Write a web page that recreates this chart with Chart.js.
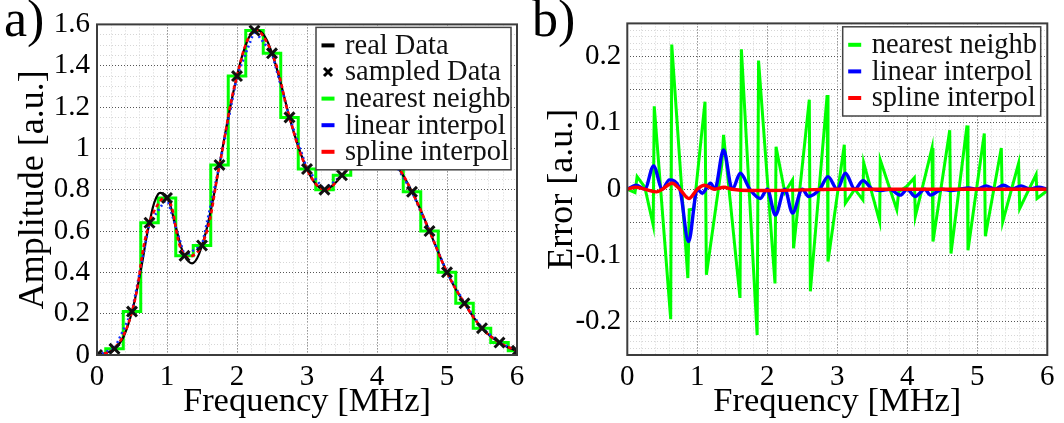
<!DOCTYPE html>
<html><head><meta charset="utf-8">
<script src="https://cdn.jsdelivr.net/npm/chart.js@4.4.1/dist/chart.umd.min.js"></script>
<style>
html,body{margin:0;padding:0;background:#fff;width:1064px;height:423px;overflow:hidden}
#wrapA{position:absolute;left:0;top:0;width:532px;height:423px}
#wrapB{position:absolute;left:532px;top:0;width:532px;height:423px}
canvas{display:block}
</style></head><body>
<div id="wrapA"><canvas id="cA" width="532" height="423"></canvas></div>
<div id="wrapB"><canvas id="cB" width="532" height="423"></canvas></div>
<script>
// ---------- data ----------
const sampleFreq = [0,0.25,0.5,0.75,1,1.25,1.5,1.75,2,2.25,2.5,2.75,3,3.25,3.5,3.75,4,4.25,4.5,4.75,5,5.25,5.5,5.75,6];
const sampleAmp  = [0.00,0.03,0.21,0.64,0.76,0.48,0.53,0.92,1.35,1.57,1.46,1.15,0.90,0.80,0.87,0.96,0.99,0.93,0.79,0.60,0.40,0.25,0.13,0.06,0.02];

const realFreq = [0,0.125,0.25,0.375,0.5,0.625,0.75,0.875,1,1.125,1.25,1.375,1.5,1.625,1.75,1.875,2,2.125,2.25,2.375,2.5,2.625,2.75,2.875,3,3.125,3.25,3.375,3.5,3.625,3.75,3.875,4,4.125,4.25,4.375,4.5,4.625,4.75,4.875,5,5.125,5.25,5.375,5.5,5.625,5.75,5.875,6];
const realAmp  = [0.000,0.010,0.030,0.085,0.210,0.410,0.640,0.780,0.765,0.620,0.480,0.445,0.530,0.700,0.920,1.150,1.350,1.500,1.572,1.553,1.460,1.315,1.150,1.010,0.900,0.827,0.800,0.823,0.870,0.918,0.960,0.992,0.990,0.972,0.930,0.868,0.790,0.700,0.600,0.498,0.400,0.318,0.250,0.184,0.130,0.090,0.060,0.036,0.020];

const nnErrFreq = [0,0.11,0.14,0.25,0.37,0.385,0.62,0.635,0.865,0.885,0.95,1.11,1.13,1.35,1.375,1.61,1.63,1.855,1.875,2.11,2.125,2.25,2.36,2.375,2.6,2.615,2.855,2.867,3.1,3.115,3.25,3.365,3.377,3.605,3.614,3.85,3.877,3.99,4.1,4.115,4.353,4.367,4.606,4.624,4.853,4.867,5.1,5.115,5.343,5.363,5.59,5.606,5.84,5.853,6.0];
const nnErr     = [0,-0.005,0.019,0.003,-0.054,0.125,-0.196,0.218,-0.134,-0.031,-0.03,0.132,-0.129,0.037,0.082,-0.164,0.211,-0.22,0.194,-0.142,0.064,-0.005,0.014,-0.089,0.135,-0.154,0.142,-0.109,0.067,-0.021,0.0,-0.016,0.040,-0.049,0.044,-0.031,-0.004,0.004,0.017,-0.041,0.062,-0.079,0.089,-0.097,0.096,-0.092,0.084,-0.071,0.062,-0.049,0.039,-0.029,0.022,-0.014,-0.002];

const linErrFreq = [0,0.125,0.25,0.375,0.5,0.6,0.75,0.875,1,1.07,1.19,1.25,1.375,1.5,1.615,1.75,1.9,2,2.115,2.25,2.36,2.5,2.59,2.75,2.867,3,3.115,3.25,3.367,3.5,3.625,3.75,3.9,4,4.11,4.25,4.33,4.5,4.625,4.75,4.875,5,5.125,5.25,5.375,5.5,5.625,5.75,5.875,6];
const linErr     = [0,0.006,0,0.035,0,0.014,0,-0.079,0,-0.006,0.009,0,0.059,0,0.024,0,-0.014,0,-0.039,0,-0.036,0,-0.011,0,0.019,0,0.024,0,0.013,0,-0.002,0,-0.009,0,-0.011,0,-0.009,0,-0.002,0,0.002,0,0.005,0,0.006,0,0.005,0,0.003,0];

const splErrFreq = [0,0.12,0.25,0.42,0.5,0.64,0.75,0.88,1,1.1,1.25,1.38,1.5,1.75,2,2.5,3,4,5,6];
const splErr     = [0,0.003,0,-0.004,0,0.009,0,-0.014,0,0.006,0,0.003,0,-0.002,-0.002,-0.001,0,0,0,0];

const freqTickLabels = [0,1,2,3,4,5,6];
const ampTickLabels  = [0,0.2,0.4,0.6,0.8,1,1.2,1.4,1.6];
const errTickLabels  = [-0.2,-0.1,0,0.1,0.2];

// ---------- helpers ----------
const SERIF = '"Liberation Serif", "Times New Roman", serif';
function gridValues(step, min, max){
  const n = Math.round((max-min)/step), a=[];
  for(let i=0;i<=n;i++) a.push(+(min+i*step).toFixed(6));
  return a;
}
const near = (a,b)=>Math.abs(a-b)<1e-6;
const inList = (v,list)=>list.some(t=>near(t,v));
const pts = (xs,ys)=>xs.map((x,i)=>({x:x,y:ys[i]}));

const frameAndLegend = {
  id:'frameAndLegend',
  afterDatasetsDraw(chart, args, opts){
    const {ctx, chartArea:a} = chart;
    ctx.save();
    ctx.setLineDash([]);
    ctx.strokeStyle='#3c3c3c'; ctx.lineWidth=2;
    ctx.strokeRect(a.left, a.top, a.right-a.left, a.bottom-a.top);
    const items = chart.data.datasets.filter(d=>d.legendKind).sort((p,q)=>p.legendPos-q.legendPos);
    const rowH=26.6, pad=18, w=opts.width;
    const h = pad*2 + rowH*(items.length-1);
    const x0 = a.right - opts.marginRight - w, y0 = a.top + opts.marginTop;
    ctx.fillStyle='#fff'; ctx.fillRect(x0,y0,w,h);
    ctx.strokeStyle='#444'; ctx.lineWidth=1.5; ctx.strokeRect(x0,y0,w,h);
    ctx.font = '28.5px '+SERIF; ctx.textBaseline='middle'; ctx.textAlign='left';
    items.forEach((d,i)=>{
      const cy = y0 + pad + i*rowH, sx = x0 + 12;
      if(d.legendKind==='cross'){
        ctx.strokeStyle='#000'; ctx.lineWidth=3; const r=4;
        ctx.beginPath(); ctx.moveTo(sx-r,cy-r); ctx.lineTo(sx+r,cy+r); ctx.moveTo(sx+r,cy-r); ctx.lineTo(sx-r,cy+r); ctx.stroke();
      } else {
        ctx.fillStyle=d.legendColor; ctx.fillRect(sx-6.5, cy-2, 13, 4);
      }
      ctx.fillStyle='#111'; ctx.fillText(d.label, x0+29, cy+1);
    });
    ctx.restore();
  },
  afterDraw(chart, args, opts){
    const ctx = chart.ctx;
    ctx.save();
    ctx.font = '52px '+SERIF; ctx.fillStyle='#000'; ctx.textBaseline='top'; ctx.textAlign='left';
    ctx.fillText(opts.panel, opts.panelX, opts.panelY);
    ctx.restore();
  }
};

function xAxis(){
  return {
    type:'linear', min:0, max:6,
    afterBuildTicks:(s)=>{ s.ticks = gridValues(0.2,0,6).map(v=>({value:v})); },
    afterFit:(s)=>{ s.height = 68; },
    ticks:{ autoSkip:false, maxRotation:0, padding:5, color:'#000', font:{family:SERIF,size:29},
      callback:(v)=> inList(v,freqTickLabels) ? String(Math.round(v)) : '' },
    grid:{ drawTicks:false, lineWidth:1,
      color:(c)=> near(c.tick.value, Math.round(c.tick.value)) ? '#555' : '#d6d6d6' },
    border:{ display:false, dash:[1,2] },
    title:{ display:true, text:'Frequency [MHz]', color:'#000', font:{family:SERIF,size:34.5,lineHeight:1}, padding:{top:0,bottom:4} }
  };
}

// ---------- chart a) ----------
new Chart(document.getElementById('cA'), {
  type:'line',
  data:{ datasets:[
    { label:'real Data', data:pts(realFreq,realAmp), borderColor:'#000', borderWidth:2.2, tension:0.4, pointRadius:0, order:4, legendKind:'line', legendColor:'#000', legendPos:0 },
    { label:'sampled Data', data:pts(sampleFreq,sampleAmp), showLine:false, pointStyle:'crossRot', pointRadius:7, pointBorderWidth:3, pointBorderColor:'#111', pointBackgroundColor:'#111', borderColor:'#111', order:0, legendKind:'cross', legendPos:1 },
    { label:'nearest neighb', data:pts(sampleFreq,sampleAmp), stepped:'middle', borderColor:'#00ff00', borderWidth:3, pointRadius:0, order:5, legendKind:'line', legendColor:'#00ff00', legendPos:2 },
    { label:'linear interpol', data:pts(sampleFreq,sampleAmp), tension:0, borderColor:'#1030ff', borderWidth:2.6, borderDash:[2,3], pointRadius:0, order:2, legendKind:'line', legendColor:'#0000ff', legendPos:3 },
    { label:'spline interpol', data:pts(sampleFreq,sampleAmp), tension:0.4, borderColor:'#ff0000', borderWidth:2.6, borderDash:[4,3], pointRadius:0, order:1, legendKind:'line', legendColor:'#ff0000', legendPos:4 }
  ]},
  options:{
    responsive:false, animation:false, events:[],
    layout:{ padding:{ left:0, right:15, top:23.5, bottom:0 } },
    plugins:{ legend:{display:false}, tooltip:{enabled:false},
      frameAndLegend:{ width:195, marginRight:6, marginTop:3, panel:'a)', panelX:4, panelY:-4 } },
    scales:{
      x: xAxis(),
      y:{ type:'linear', min:0, max:1.6,
        afterBuildTicks:(s)=>{ s.ticks = gridValues(0.05,0,1.6).map(v=>({value:v})); },
        afterFit:(s)=>{ s.width = 97; },
        ticks:{ autoSkip:false, padding:7, color:'#000', font:{family:SERIF,size:29},
          callback:(v)=> inList(v,ampTickLabels) ? String(Math.round(v*10)/10) : '' },
        grid:{ drawTicks:false, lineWidth:1,
          color:(c)=> near(c.tick.value*5, Math.round(c.tick.value*5)) ? '#555' : '#d6d6d6' },
        border:{ display:false, dash:[1,2] },
        title:{ display:true, text:'Amplitude [a.u.]', color:'#000', font:{family:SERIF,size:36,lineHeight:1}, padding:{top:16,bottom:0} }
      }
    }
  },
  plugins:[frameAndLegend]
});

// ---------- chart b) ----------
new Chart(document.getElementById('cB'), {
  type:'line',
  data:{ datasets:[
    { label:'nearest neighb', data:pts(nnErrFreq,nnErr), tension:0, borderColor:'#00ff00', borderWidth:3, pointRadius:0, order:3, legendKind:'line', legendColor:'#00ff00', legendPos:0 },
    { label:'linear interpol', data:pts(linErrFreq,linErr), cubicInterpolationMode:'monotone', borderColor:'#0000ff', borderWidth:3.4, pointRadius:0, order:2, legendKind:'line', legendColor:'#0000ff', legendPos:1 },
    { label:'spline interpol', data:pts(splErrFreq,splErr), cubicInterpolationMode:'monotone', borderColor:'#ff0000', borderWidth:3.4, pointRadius:0, order:1, legendKind:'line', legendColor:'#ff0000', legendPos:2 }
  ]},
  options:{
    responsive:false, animation:false, events:[],
    layout:{ padding:{ left:0, right:16.7, top:23.3, bottom:0 } },
    plugins:{ legend:{display:false}, tooltip:{enabled:false},
      frameAndLegend:{ width:198, marginRight:6.6, marginTop:3.4, panel:'b)', panelX:0, panelY:-4 } },
    scales:{
      x: xAxis(),
      y:{ type:'linear', min:-0.25, max:0.25,
        afterBuildTicks:(s)=>{ s.ticks = gridValues(0.01,-0.25,0.25).map(v=>({value:v})); },
        afterFit:(s)=>{ s.width = 95.3; },
        ticks:{ autoSkip:false, padding:6, color:'#000', font:{family:SERIF,size:29},
          callback:(v)=> inList(v,errTickLabels) ? (near(v,0)?'0':String(Math.round(v*10)/10)) : '' },
        grid:{ drawTicks:false, lineWidth:1,
          color:(c)=> near(c.tick.value*20, Math.round(c.tick.value*20)) ? '#555' : '#d6d6d6' },
        border:{ display:false, dash:[1,2] },
        title:{ display:true, text:'Error [a.u.]', color:'#000', font:{family:SERIF,size:36,lineHeight:1}, padding:{top:13,bottom:0} }
      }
    }
  },
  plugins:[frameAndLegend]
});
</script>
</body></html>
